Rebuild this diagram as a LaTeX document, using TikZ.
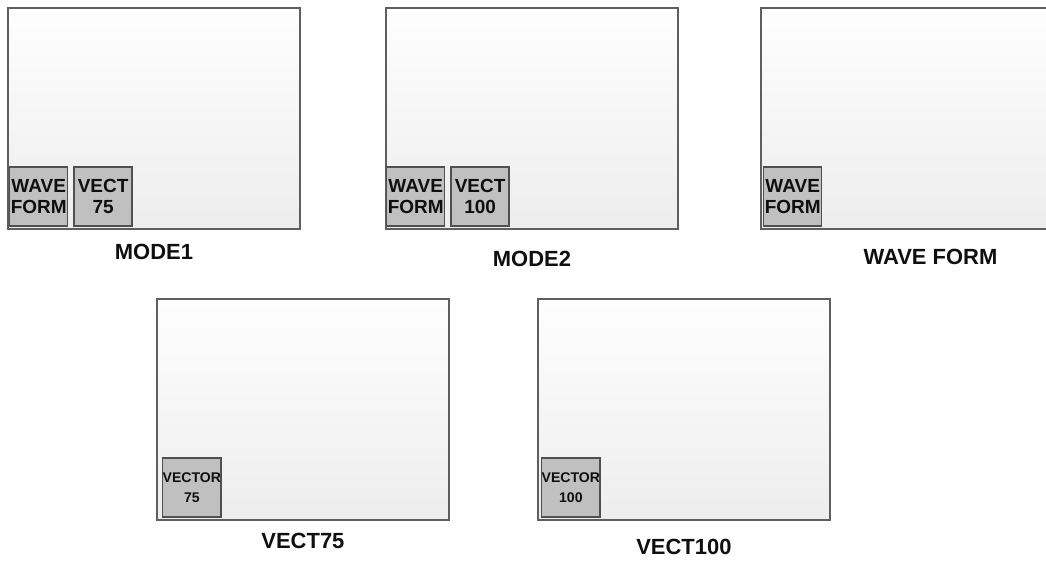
\documentclass[tikz,border=0pt]{standalone}
\usepackage{fontspec}
\setmainfont{Liberation Sans}
\usetikzlibrary{positioning}
\definecolor{UiFrame}{RGB}{95,95,95}
\definecolor{UiTop}{RGB}{254,254,254}
\definecolor{UiBottom}{RGB}{237,237,237}
\definecolor{UiBtn}{RGB}{192,192,192}
\definecolor{UiBtnLine}{RGB}{80,80,80}
\definecolor{UiText}{RGB}{15,15,15}
\tikzset{
  ui/screen/.style={
    draw=UiFrame,
    line width=1.1pt,
    top color=UiTop,
    bottom color=UiBottom,
    anchor=north west,
    minimum width=5.84cm,
    minimum height=4.42cm,
    inner sep=0pt
  },
  ui/btn/.style={
    draw=UiBtnLine,
    line width=0.8pt,
    fill=UiBtn,
    align=center,
    text=UiText,
    minimum width=1.16cm,
    minimum height=1.18cm,
    inner sep=0pt,
    font=\bfseries\fontsize{10.8}{12}\selectfont
  },
  ui/smallbtn/.style={ui/btn, font=\bfseries\fontsize{8}{11.5}\selectfont},
  ui/caption/.style={font=\bfseries\fontsize{12.5}{14}\selectfont, text=UiText, inner sep=0pt}
}

\begin{document}
\begin{tikzpicture}[x=0.02cm,y=-0.02cm]
  \clip (0,0) rectangle (1046,561);
  % screens
  \foreach \name/\x/\y in {m1/7/7,m2/385/7,wf/760/7,v75/156/298,v100/537/298}
  {\node[ui/screen] (\name) at (\x,\y) {};}

  % buttons
  \node[ui/btn, above right=0.06cm and 0.04cm of m1.south west] (m1wave) {WAVE\\FORM};
  \node[ui/btn, right=0.1cm of m1wave] (m1vect) {VECT\\75};
  \node[ui/btn, above right=0.06cm and 0.02cm of m2.south west] (m2wave) {WAVE\\FORM};
  \node[ui/btn, right=0.1cm of m2wave] (m2vect) {VECT\\100};
  \node[ui/btn, above right=0.06cm and 0.06cm of wf.south west] (wfwave) {WAVE\\FORM};
  \node[ui/smallbtn, above right=0.06cm and 0.12cm of v75.south west] (v75vect) {VECTOR\\75};
  \node[ui/smallbtn, above right=0.06cm and 0.08cm of v100.south west] (v100vect) {VECTOR\\100};

  % captions
  \node[ui/caption, below=0.27cm of m1] (m1cap) {MODE1};
  \node[ui/caption, below=0.42cm of m2] (m2cap) {MODE2};
  \node[ui/caption, below=0.38cm of wf, xshift=0.47cm] (wfcap) {WAVE FORM};
  \node[ui/caption, below=0.24cm of v75] (v75cap) {VECT75};
  \node[ui/caption, below=0.36cm of v100] (v100cap) {VECT100};
\end{tikzpicture}
\end{document}
